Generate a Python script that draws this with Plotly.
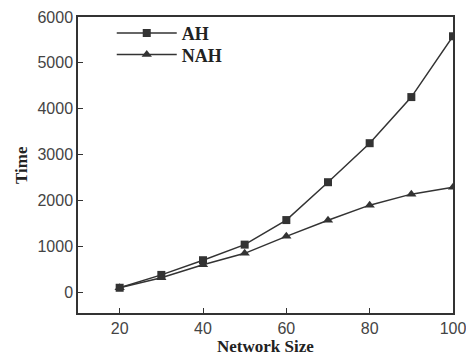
import plotly.graph_objects as go

network_size = [20, 30, 40, 50, 60, 70, 80, 90, 100]
ah_time = [100, 380, 700, 1040, 1575, 2400, 3250, 4255, 5580]
nah_time = [100, 320, 600, 850, 1220, 1570, 1900, 2140, 2290]
x_ticks = [20, 40, 60, 80, 100]
y_ticks = [0, 1000, 2000, 3000, 4000, 5000, 6000]
x_title = "Network Size"
y_title = "Time"

line_color = "#333333"
fig = go.Figure()
fig.add_trace(go.Scatter(x=network_size, y=ah_time, name="<b>AH</b>", mode="lines+markers",
                         line=dict(color=line_color, width=1.5), legend="legend",
                         marker=dict(symbol="square", size=8, color=line_color)))
fig.add_trace(go.Scatter(x=network_size, y=nah_time, name="<b>NAH</b>", mode="lines+markers",
                         line=dict(color=line_color, width=1.5), legend="legend2",
                         marker=dict(symbol="triangle-up", size=9, color=line_color)))

tick_font = dict(family="Liberation Sans, Arial", size=16, color="#444")
serif = "Liberation Serif, Times New Roman"
axis_common = dict(showline=True, linecolor=line_color, linewidth=1.5, mirror=True,
                   ticks="inside", ticklen=5, tickcolor=line_color, showgrid=False,
                   zeroline=False, tickfont=tick_font, ticklabeloverflow="allow",
                   automargin=False)
fig.update_xaxes(range=[10, 100], tickvals=x_ticks, **axis_common)
fig.update_yaxes(range=[-450, 6000], tickvals=y_ticks, **axis_common)
fig.add_annotation(text=f"<b>{x_title}</b>", xref="paper", yref="paper", x=0.5, y=0,
                   xanchor="center", yanchor="middle", yshift=-33, showarrow=False,
                   font=dict(family=serif, size=17, color="#222"))
fig.add_annotation(text=f"<b>{y_title}</b>", xref="paper", yref="paper", x=0, y=0.5,
                   xanchor="center", yanchor="middle", xshift=-57, textangle=-90, showarrow=False,
                   font=dict(family=serif, size=17, color="#222"))
legend_common = dict(x=0.09, xanchor="left", yanchor="middle", itemwidth=60,
                     font=dict(family=serif, size=18, color="#222"), bgcolor="rgba(0,0,0,0)")
fig.update_layout(width=466, height=355, margin=dict(l=78, r=13, t=17, b=42, autoexpand=False),
                  plot_bgcolor="white", paper_bgcolor="white",
                  legend=dict(y=0.945, **legend_common),
                  legend2=dict(y=0.872, **legend_common),
                  showlegend=True)
fig.write_html("out.html", config={"displayModeBar": False},
               post_script="document.body.style.margin='0';")
